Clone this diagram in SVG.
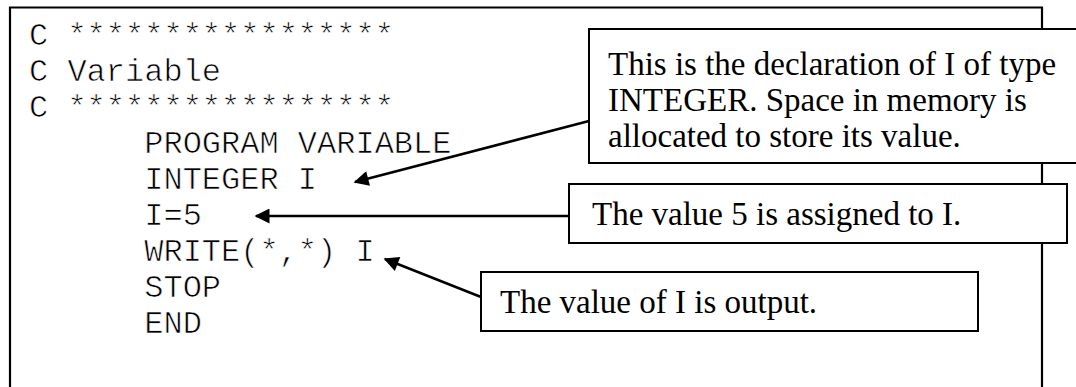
<svg xmlns="http://www.w3.org/2000/svg" width="1076" height="387" viewBox="0 0 1076 387">
  <style>
    .code { font-family: "Liberation Mono", "Courier New", monospace; font-size: 32px; fill: #000; stroke: #fff; stroke-width: 0.7px; }
    .note { font-family: "Liberation Serif", "Times New Roman", serif; font-size: 33px; fill: #000; }
    .box { fill: #fff; stroke: #000; stroke-width: 2; }
    .frame { fill: none; stroke: #000; stroke-width: 2.2; }
    .conn { stroke: #000; stroke-width: 2.5; fill: none; }
  </style>
  <defs>
    <marker id="ah" viewBox="0 0 10 10" refX="9" refY="5" markerWidth="8" markerHeight="6" markerUnits="strokeWidth" orient="auto">
      <path d="M0,0 L10,5 L0,10 z" fill="#000"/>
    </marker>
  </defs>
  <rect width="1076" height="387" fill="#fff"/>
  <g id="code-frame">
    <path class="frame" d="M10,390 L10,7.5 L1042,7.5 L1042,390"/>
    <text class="code" x="29" y="45" xml:space="preserve">C *****************</text>
    <text class="code" x="29" y="81" xml:space="preserve">C Variable</text>
    <text class="code" x="29" y="117" xml:space="preserve">C *****************</text>
    <text class="code" x="29" y="153" xml:space="preserve">      PROGRAM VARIABLE</text>
    <text class="code" x="29" y="189" xml:space="preserve">      INTEGER I</text>
    <text class="code" x="29" y="225" xml:space="preserve">      I=5</text>
    <text class="code" x="29" y="261" xml:space="preserve">      WRITE(*,*) I</text>
    <text class="code" x="29" y="297" xml:space="preserve">      STOP</text>
    <text class="code" x="29" y="333" xml:space="preserve">      END</text>
  </g>
  <g id="connectors">
    <line class="conn" x1="589" y1="121" x2="355" y2="182" marker-end="url(#ah)"/>
    <line class="conn" x1="569" y1="216" x2="256" y2="216" marker-end="url(#ah)"/>
    <line class="conn" x1="481" y1="297" x2="385" y2="259" marker-end="url(#ah)"/>
  </g>
  <g id="note-declaration">
    <rect class="box" x="589" y="29" width="500" height="134"/>
    <text class="note" x="608" y="75">This is the declaration of I of type</text>
    <text class="note" x="608" y="111">INTEGER. Space in memory is</text>
    <text class="note" x="608" y="147">allocated to store its value.</text>
  </g>
  <g id="note-assign">
    <rect class="box" x="569" y="184" width="498" height="59"/>
    <text class="note" x="592" y="225">The value 5 is assigned to I.</text>
  </g>
  <g id="note-output">
    <rect class="box" x="481" y="272" width="497" height="59"/>
    <text class="note" x="500" y="313">The value of I is output.</text>
  </g>
</svg>
